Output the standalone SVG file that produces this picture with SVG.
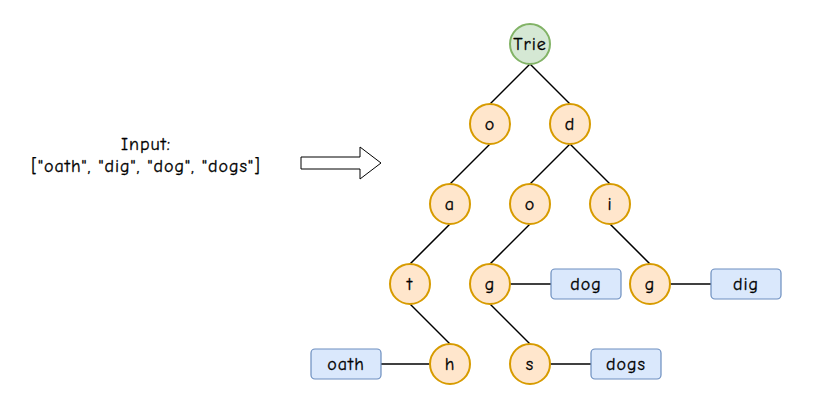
<svg xmlns="http://www.w3.org/2000/svg" width="826" height="400" viewBox="0 0 826 400">
<style>
text{font-family:"Comic Neue","Comic Sans MS","Liberation Sans",sans-serif;font-size:18px;letter-spacing:1px;fill:#000;stroke:#000;stroke-width:0.3;text-anchor:middle;dominant-baseline:central}
.n circle{fill:#ffe6cc;stroke:#d79b00;stroke-width:2}
.root circle{fill:#d5e8d4;stroke:#82b366;stroke-width:2}
.w rect{fill:#dae8fc;stroke:#6c8ebf;stroke-width:1.2}
#edges line{stroke:#000;stroke-width:1.5}
</style>
<rect width="826" height="400" fill="#fff"/>
<g id="input"><text x="146" y="144">Input:</text><text x="146" y="166">["oath", "dig", "dog", "dogs"]</text></g>
<g id="arrow"><path d="M301,157 H360 V147 L381,163 L360,179 V169 H301 Z" fill="#fff" stroke="#000" stroke-width="1"/></g>
<g id="edges">
<line x1="530" y1="64" x2="490" y2="104"/>
<line x1="530" y1="64" x2="570" y2="104"/>
<line x1="490" y1="144" x2="450" y2="184"/>
<line x1="570" y1="144" x2="530" y2="184"/>
<line x1="570" y1="144" x2="610" y2="184"/>
<line x1="450" y1="224" x2="410" y2="264"/>
<line x1="530" y1="224" x2="490" y2="264"/>
<line x1="610" y1="224" x2="650" y2="264"/>
<line x1="410" y1="304" x2="450" y2="344"/>
<line x1="490" y1="304" x2="530" y2="344"/>
<line x1="381" y1="364" x2="430" y2="364"/>
<line x1="510" y1="284" x2="551" y2="284"/>
<line x1="670" y1="284" x2="711" y2="284"/>
<line x1="550" y1="364" x2="591" y2="364"/>
</g>
<g id="trie" class="root"><circle cx="530" cy="44" r="20"/><text x="530" y="44">Trie</text></g>
<g id="n_o" class="n"><circle cx="490" cy="124" r="20"/><text x="490" y="124">o</text></g>
<g id="n_d" class="n"><circle cx="570" cy="124" r="20"/><text x="570" y="124">d</text></g>
<g id="n_oa" class="n"><circle cx="450" cy="204" r="20"/><text x="450" y="204">a</text></g>
<g id="n_do" class="n"><circle cx="530" cy="204" r="20"/><text x="530" y="204">o</text></g>
<g id="n_di" class="n"><circle cx="610" cy="204" r="20"/><text x="610" y="204">i</text></g>
<g id="n_oat" class="n"><circle cx="410" cy="284" r="20"/><text x="410" y="284">t</text></g>
<g id="n_dog" class="n"><circle cx="490" cy="284" r="20"/><text x="490" y="284">g</text></g>
<g id="n_dig" class="n"><circle cx="650" cy="284" r="20"/><text x="650" y="284">g</text></g>
<g id="n_oath" class="n"><circle cx="450" cy="364" r="20"/><text x="450" y="364">h</text></g>
<g id="n_dogs" class="n"><circle cx="530" cy="364" r="20"/><text x="530" y="364">s</text></g>
<g id="w_oath" class="w"><rect x="311" y="349" width="70" height="30" rx="4"/><text x="346" y="364">oath</text></g>
<g id="w_dog" class="w"><rect x="551" y="269" width="70" height="30" rx="4"/><text x="586" y="284">dog</text></g>
<g id="w_dig" class="w"><rect x="711" y="269" width="70" height="30" rx="4"/><text x="746" y="284">dig</text></g>
<g id="w_dogs" class="w"><rect x="591" y="349" width="70" height="30" rx="4"/><text x="626" y="364">dogs</text></g>
</svg>
